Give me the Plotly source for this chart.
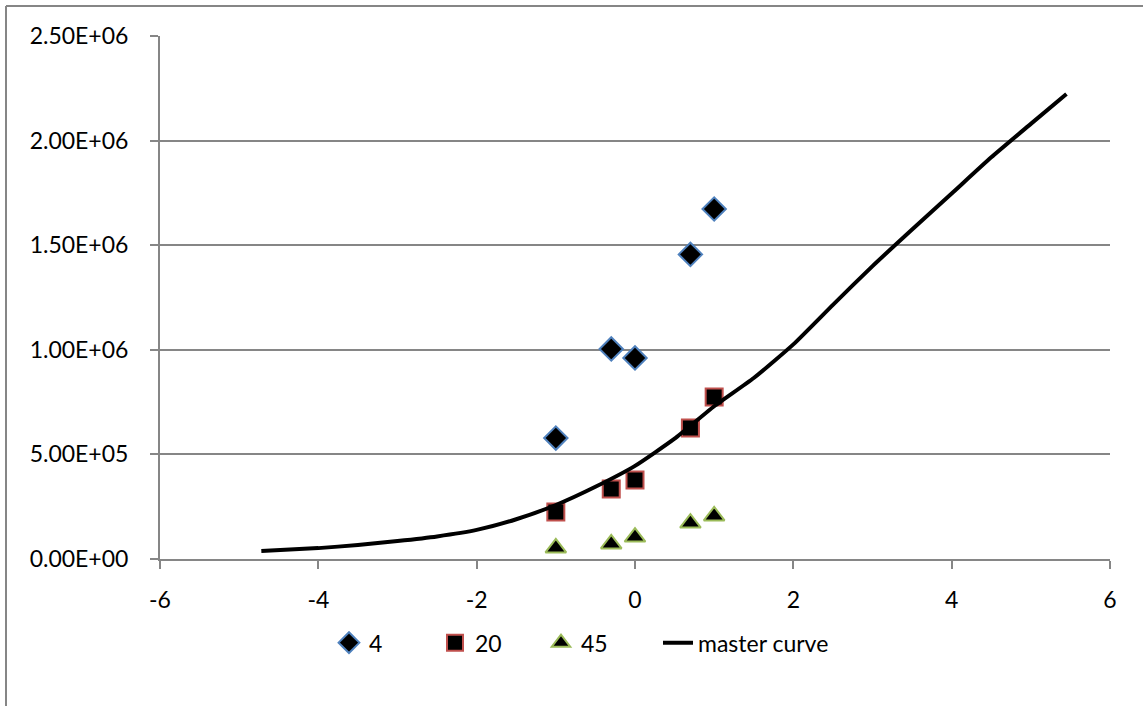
import plotly.graph_objects as go

x_temps = [-1, -0.3, 0, 0.7, 1]
y_4 = [0.578e6, 1.004e6, 0.961e6, 1.456e6, 1.673e6]
y_20 = [0.225e6, 0.335e6, 0.378e6, 0.626e6, 0.774e6]
y_45 = [0.053e6, 0.072e6, 0.105e6, 0.172e6, 0.206e6]

x_master = [-4.72, -4, -3.5, -3, -2.5, -2, -1.5, -1, -0.5, 0, 0.5, 1, 1.5, 2, 2.5, 3, 3.5, 4, 4.5, 5, 5.45]
y_master = [0.038e6, 0.052e6, 0.067e6, 0.086e6, 0.108e6, 0.139e6, 0.19e6, 0.258e6,
            0.345e6, 0.445e6, 0.575e6, 0.73e6, 0.865e6, 1.026e6, 1.215e6, 1.40e6,
            1.575e6, 1.747e6, 1.92e6, 2.08e6, 2.223e6]

y_tickvals = [0, 0.5e6, 1.0e6, 1.5e6, 2.0e6, 2.5e6]
y_ticktext = ["0.00E+00", "5.00E+05", "1.00E+06", "1.50E+06", "2.00E+06", "2.50E+06"]
x_tickvals = [-6, -4, -2, 0, 2, 4, 6]
x_ticktext = ["-6", "-4", "-2", "0", "2", "4", "6"]

FONT = "Lato"
GRAY = "#868686"
FS = 23

fig = go.Figure()
fig.add_trace(go.Scatter(x=x_temps, y=y_4, mode="markers", name="4",
                         marker=dict(symbol="diamond", size=18, color="black",
                                     line=dict(color="#4F81BD", width=2))))
fig.add_trace(go.Scatter(x=x_temps, y=y_20, mode="markers", name="20",
                         marker=dict(symbol="square", size=17, color="black",
                                     line=dict(color="#C0504D", width=2))))
fig.add_trace(go.Scatter(x=x_temps, y=y_45, mode="markers", name="45",
                         marker=dict(symbol="triangle-up", size=18, color="black",
                                     line=dict(color="#9BBB59", width=2))))
fig.add_trace(go.Scatter(x=x_master, y=y_master, mode="lines", name="master curve",
                         legend="legend2",
                         line=dict(color="black", width=4, shape="spline", smoothing=0.5)))

fig.update_layout(
    width=1143, height=706,
    margin=dict(l=160, r=33, t=36, b=147),
    paper_bgcolor="white", plot_bgcolor="white",
    font=dict(family=FONT, size=FS, color="black"),
    showlegend=True,
    legend=dict(orientation="h", x=(329 - 160) / 950, xanchor="left", y=-0.16,
                yanchor="middle", font=dict(family=FONT, size=FS),
                entrywidth=61, entrywidthmode="pixels"),
    legend2=dict(orientation="h", x=(658 - 160) / 950, xanchor="left", y=-0.16,
                 yanchor="middle", font=dict(family=FONT, size=FS)),
    xaxis=dict(range=[-6, 6], tickvals=x_tickvals, ticktext=x_ticktext,
               showgrid=False, zeroline=False,
               showline=True, linecolor=GRAY, linewidth=2, ticks="outside",
               ticklen=8, tickcolor=GRAY, tickwidth=2, ticklabelstandoff=11),
    yaxis=dict(range=[0, 2.5e6], tickvals=y_tickvals, ticktext=y_ticktext,
               showgrid=True, gridcolor=GRAY, gridwidth=2, zeroline=False,
               showline=True, linecolor=GRAY, linewidth=2, ticks="outside",
               ticklen=8, tickcolor=GRAY, tickwidth=2, ticklabelstandoff=17),
    shapes=[dict(type="line", xref="paper", yref="paper",
                 x0=(6 - 160) / 950, x1=(6 - 160) / 950,
                 y0=(559 - 706) / 523, y1=(559 - 6) / 523,
                 line=dict(color=GRAY, width=2)),
            dict(type="line", xref="paper", yref="paper",
                 x0=(6 - 160) / 950, x1=(1143 - 160) / 950,
                 y0=(559 - 6) / 523, y1=(559 - 6) / 523,
                 line=dict(color=GRAY, width=2))],
)

fig.write_html("out.html")
